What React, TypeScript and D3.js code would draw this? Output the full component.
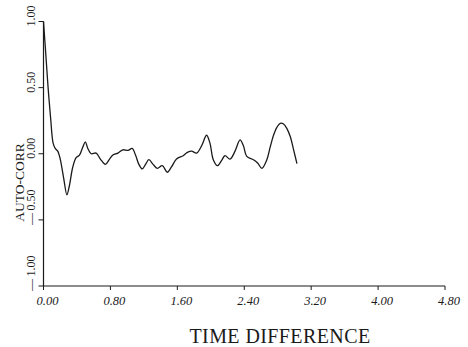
import * as d3 from "d3";

// Auto-correlation vs. time difference.
const lagTimes = [
  0.0, 0.03, 0.055, 0.085, 0.115, 0.14, 0.17, 0.2, 0.24, 0.28, 0.31, 0.35,
  0.39, 0.43, 0.47, 0.5, 0.53, 0.57, 0.63, 0.68, 0.74, 0.79, 0.83, 0.89, 0.95,
  1.01, 1.06, 1.1, 1.14, 1.18, 1.22, 1.26, 1.31, 1.36, 1.42, 1.48, 1.53, 1.59,
  1.67, 1.72, 1.77, 1.83, 1.89, 1.95, 1.99, 2.03, 2.08, 2.13, 2.17, 2.23, 2.29,
  2.35, 2.39, 2.43, 2.51, 2.56, 2.61, 2.67, 2.71, 2.75, 2.79, 2.83, 2.87, 2.91,
  2.95, 2.99, 3.03,
];
const autoCorr = [
  1.0, 0.73, 0.5, 0.27, 0.08, 0.04, 0.02, -0.04, -0.18, -0.31, -0.24,
  -0.1, -0.03, -0.01, 0.05, 0.09, 0.04, 0.0, 0.005, -0.04, -0.08, -0.04, -0.01,
  0.005, 0.03, 0.025, 0.04, -0.01, -0.08, -0.115, -0.08, -0.045, -0.08, -0.11,
  -0.09, -0.14, -0.1, -0.04, -0.015, 0.01, 0.02, 0.005, 0.06, 0.14, 0.08, -0.045,
  -0.09, -0.05, -0.015, -0.04, 0.02, 0.105, 0.06, -0.02, -0.045, -0.07, -0.11,
  -0.045, 0.05, 0.14, 0.2, 0.23, 0.225, 0.19, 0.13, 0.03, -0.075,
];
const xTicks = [0, 0.8, 1.6, 2.4, 3.2, 4.0, 4.8];
const yTicks = [1, 0.5, 0, -0.5, -1];

const W = 468;
const H = 347;
const ink = "#1a1a1a";
const serif = "'Liberation Serif', 'DejaVu Serif', serif";

export default function App() {
  const x = d3.scaleLinear().domain([0, 4.8]).range([43.5, 445]);
  const y = d3.scaleLinear().domain([-1, 1]).range([286, 21.5]);

  const pts = lagTimes.map((t, i) => [t, autoCorr[i]] as [number, number]);
  const line = d3
    .line<[number, number]>()
    .x((d) => x(d[0]))
    .y((d) => y(d[1]))
    .curve(d3.curveCatmullRom.alpha(0.5));

  const fmtY = (v: number) =>
    v < 0 ? `\u2014\u2009${Math.abs(v).toFixed(2)}` : v.toFixed(2);

  return (
    <svg
      width={W}
      height={H}
      viewBox={`0 0 ${W} ${H}`}
      style={{ position: "absolute", left: 0, top: 0, background: "#fff" }}
    >
      {/* axes */}
      <line x1={x(0)} x2={x(4.8)} y1={y(-1)} y2={y(-1)} stroke={ink} strokeWidth={1.2} />
      <line x1={x(0)} x2={x(0)} y1={y(-1)} y2={y(1)} stroke={ink} strokeWidth={1.2} />

      {xTicks.map((t) => (
        <g key={"x" + t}>
          <line x1={x(t)} x2={x(t)} y1={y(-1)} y2={y(-1) + 4} stroke={ink} strokeWidth={1} />
          <text
            x={x(t) + 4}
            y={305}
            textAnchor="middle"
            fontFamily={serif}
            fontStyle="italic"
            fontSize={12.5}
            fill={ink}
          >
            {t.toFixed(2)}
          </text>
        </g>
      ))}

      {yTicks.map((v) => (
        <g key={"y" + v}>
          <line x1={x(0) - 5} x2={x(0)} y1={y(v)} y2={y(v)} stroke={ink} strokeWidth={1} />
          <text
            transform={`translate(35,${y(v) + 5}) rotate(-90)`}
            textAnchor="start"
            fontFamily={serif}
            fontSize={12}
            fill={ink}
          >
            {fmtY(v)}
          </text>
        </g>
      ))}

      <text
        transform={`translate(24,182.5) rotate(-90)`}
        textAnchor="middle"
        fontFamily={serif}
        fontSize={13.5}
        fill={ink}
      >
        AUTO-CORR
      </text>

      <text
        x={280}
        y={343}
        textAnchor="middle"
        fontFamily={serif}
        fontSize={20}
        letterSpacing={0.4}
        fill={ink}
      >
        TIME DIFFERENCE
      </text>

      <path d={line(pts) ?? ""} fill="none" stroke={ink} strokeWidth={1.3} />
    </svg>
  );
}
